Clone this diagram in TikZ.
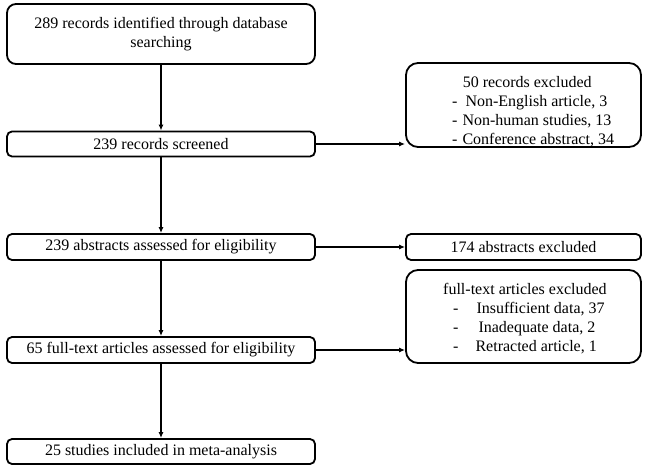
\documentclass[tikz,border=0pt]{standalone}
\usepackage{fontspec}
\setmainfont{Liberation Serif}
\usetikzlibrary{arrows.meta}
\begin{document}
\begin{tikzpicture}[x=1pt,y=1pt,
  every node/.style={font=\fontsize{16}{19}\selectfont},
  mainbox/.style={draw, line width=1.8pt, rounded corners=5pt, minimum width=308pt, inner sep=0pt, align=center},
  sidebox/.style={draw, line width=1.8pt, rounded corners=12pt, minimum width=235pt, inner sep=0pt, align=center},
  listtext/.style={anchor=west, inner sep=0pt, align=left},
  flow/.style={line width=1.8pt, -{Latex[length=6pt,width=5pt]}}
]
\useasboundingbox (0,0) rectangle (650,469);
\node[mainbox, rounded corners=9pt, minimum height=60pt] (b1) at (161,435) {289 records identified through database\\searching};
\node[mainbox, minimum height=25pt] (b2) at (161,325) {239 records screened};
\node[mainbox, minimum height=26pt] (b3) at (161,222) {239 abstracts assessed for eligibility};
\node[mainbox, minimum height=26pt] (b4) at (161,119) {65 full-text articles assessed for eligibility};
\node[mainbox, minimum height=25pt] (b5) at (161,17.5) {25 studies included in meta-analysis};
\node[sidebox, minimum height=84pt] (r1) at (523.5,364) {};
\node[listtext] (t1) at (452,357) {\makebox[150pt][c]{50 records excluded}\\
  -\hspace{8pt}Non-English article, 3\\
  -\hspace{5pt}Non-human studies, 13\\
  -\hspace{5pt}Conference abstract, 34};
\node[sidebox, rounded corners=5pt, minimum height=26pt] (r2) at (523.5,222) {174 abstracts excluded};
\node[sidebox, minimum height=93pt] (r3) at (523.5,152.5) {};
\node[listtext] (t3) at (443,150) {full-text articles excluded\\
  \hspace*{10pt}-\hspace{18pt}Insufficient data, 37\\
  \hspace*{10pt}-\hspace{20pt}Inadequate data, 2\\
  \hspace*{10pt}-\hspace{17pt}Retracted article, 1};
\draw[flow] (b1) -- (b2);
\draw[flow] (b2) -- (b3);
\draw[flow] (b3) -- (b4);
\draw[flow] (b4) -- (b5);
\draw[flow] (b2.east) -- (b2.east -| r1.west);
\draw[flow] (b3.east) -- (r2.west);
\draw[flow] (b4.east) -- (b4.east -| r3.west);
\end{tikzpicture}
\end{document}
